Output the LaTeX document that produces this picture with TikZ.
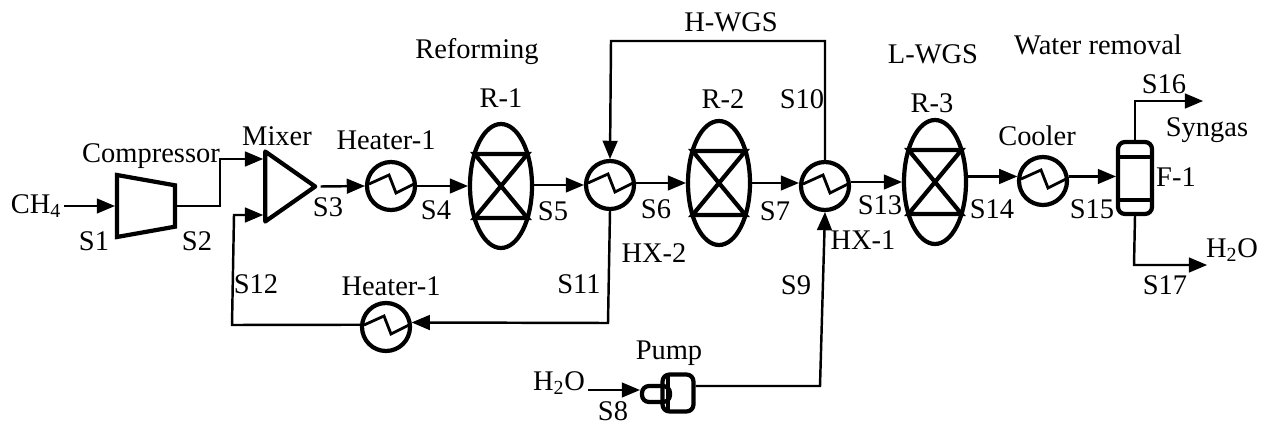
\documentclass[tikz,border=0pt]{standalone}
\usepackage{fontspec}
\setmainfont{Liberation Serif}
\usetikzlibrary{calc, shapes.geometric, positioning, arrows}
\tikzset{
pipe/.style={line width=1.4pt, -triangle 45},
unit/.style={draw=black, line width=2.4pt, inner sep=0pt, fill=none},
lbl/.style={font=\fontsize{16.2}{18}\selectfont, inner sep=0pt},
}
\newcommand\hxr[3]{\node[unit, circle, minimum size=0.96cm] (#1) at (#2,#3) {};\draw[line width=1.6pt] ([shift={(-22,-2)}]#1.center) -- ([shift={(-2,-11)}]#1.center) -- ([shift={(5,7)}]#1.center) -- ([shift={(23,-2)}]#1.center);}
\newcommand\reactor[3]{\node[unit, ellipse, minimum width=1.24cm, minimum height=2.48cm] (#1) at (#2,#3) {};\draw[line width=2.4pt] ([shift={(-26.5,-32)}]#1.center) -- ([shift={(26.5,-32)}]#1.center) -- ([shift={(-26.5,32)}]#1.center) -- ([shift={(26.5,32)}]#1.center) -- cycle;}

\begin{document}
\begin{tikzpicture}[x=0.02cm, y=-0.02cm]
\useasboundingbox (0,0) rectangle (1264,426);

% units
\node[unit, inner sep=1pt, trapezium, shape border rotate=270, trapezium stretches=true, trapezium left angle=76, trapezium right angle=76, minimum width=1.24cm, minimum height=1.16cm] (comp) at (146,206) {};
\node[unit, inner sep=1pt, isosceles triangle, isosceles triangle stretches=true, minimum width=1.4cm, minimum height=1cm, line join=round] (mix) at (283,186.5) {};
\hxr{heatA}{391}{186}
\reactor{R1}{501}{186}
\hxr{hxB}{610}{185}
\reactor{R2}{719}{183}
\hxr{hxA}{825}{186}
\reactor{R3}{935}{182}
\hxr{cool}{1043}{181}
\hxr{heatB}{386}{327}

\node[unit, rectangle, rounded corners=4pt, minimum width=0.68cm, minimum height=1.44cm] (flash) at (1135,178) {};
\draw[line width=2.4pt] ([shift={(-17,-21)}]flash.center) -- ([shift={(17,-21)}]flash.center);
\draw[line width=2.4pt] ([shift={(-17,22)}]flash.center) -- ([shift={(17,22)}]flash.center);

\node[unit, rectangle, rounded corners=4pt, minimum width=0.56cm, minimum height=0.32cm] (pumpA) at (656,394) {};
\node[unit, rectangle, rounded corners=4pt, minimum width=0.62cm, minimum height=0.74cm] (pumpB) at (678,393) {};
\draw[line width=2.4pt] (668,375) -- (668,412);

% free ends
\coordinate (ch4) at (64,206);
\coordinate (wat) at (588,390);
\coordinate (S2a) at (220,206);
\coordinate (S2b) at (220,159);
\coordinate (S12a) at (232,325);
\coordinate (S12b) at (234,215);
\coordinate (S10a) at (825,41);
\coordinate (S10b) at (611,41);
\coordinate (S11a) at (608,323);
\coordinate (S9a) at (820,386);
\coordinate (S16a) at (1135,101);
\coordinate (S16b) at (1203,101);
\coordinate (S17a) at (1134,265);
\coordinate (S17b) at (1207,265);

% streams
\draw[pipe] (ch4) -- (ch4 -| comp.west);
\draw[pipe] (comp.east) -- (S2a) -- (S2b) -- (S2b -| mix.west);
\draw[pipe] (mix.east) -- (heatA.west);
\draw[pipe] (heatA.east) -- (heatA.east -| R1.west);
\draw[pipe] (hxB.west -| R1.east) -- (hxB.west);
\draw[pipe] (R2.west -| hxB.east) -- (R2.west);
\draw[pipe] (R2.east) -- (R2.east -| hxA.west);
\draw[pipe] (R3.west -| hxA.east) -- (R3.west);
\draw[pipe] (R3.east |- cool.170) -- (cool.170);
\draw[pipe] (cool.10) -- (cool.10 -| flash.west);
\draw[pipe] (flash.north) -- (S16a) -- (S16b);
\draw[pipe] (flash.south) -- (S17a) -- (S17b);
\draw[pipe] (hxA.north) -- (S10a) -- (S10b) -- (hxB.north);
\draw[pipe] (hxB.south) -- (S11a) -- (heatB.10);
\draw[pipe] (heatB.175) -- (S12a) -- (S12b) -- (S12b -| mix.west);
\draw[pipe] (wat) -- (wat -| pumpA.west);
\draw[pipe] (pumpB.east |- S9a) -- (S9a) -- (hxA.south);

% labels
\node[lbl] (tCH) at (36,206) {CH\textsubscript{4}};
\node[lbl] (tS1) at (94,241) {S1};
\node[lbl] (tS2) at (197,241) {S2};
\node[lbl] (tComp) at (151,156) {Compressor};
\node[lbl] (tMix) at (277,136) {Mixer};
\node[lbl] (tHeatA) at (386,140) {Heater-1};
\node[lbl] (tS3) at (328,207) {S3};
\node[lbl] (tS4) at (436,210) {S4};
\node[lbl] (tRef) at (477,52) {Reforming};
\node[lbl] (tR1) at (501,98) {R-1};
\node[lbl] (tS5) at (553,211) {S5};
\node[lbl] (tS6) at (656,209) {S6};
\node[lbl] (tR2) at (723,99) {R-2};
\node[lbl] (tHXB) at (654,253) {HX-2};
\node[lbl] (tS7) at (775,211) {S7};
\node[lbl] (tS10) at (802,99) {S10};
\node[lbl] (tHWGS) at (731,22) {H-WGS};
\node[lbl] (tS11) at (579,284) {S11};
\node[lbl] (tS12) at (256,284) {S12};
\node[lbl] (tHeatB) at (391,286) {Heater-1};
\node[lbl] (tS9) at (796,285) {S9};
\node[lbl] (tPump) at (669,353) {Pump};
\node[lbl] (tWatA) at (559,383) {H\textsubscript{2}O};
\node[lbl] (tS8) at (613,411) {S8};
\node[lbl] (tS13) at (880,205) {S13};
\node[lbl] (tHXA) at (863,240) {HX-1};
\node[lbl] (tLWGS) at (933,54) {L-WGS};
\node[lbl] (tR3) at (932,103) {R-3};
\node[lbl] (tCool) at (1037,136) {Cooler};
\node[lbl] (tWater) at (1098,45) {Water removal};
\node[lbl] (tS14) at (992,209) {S14};
\node[lbl] (tS15) at (1092,209) {S15};
\node[lbl] (tF1) at (1176,177) {F-1};
\node[lbl] (tS16) at (1164,84) {S16};
\node[lbl] (tSyn) at (1207,130) {Syngas};
\node[lbl] (tWatB) at (1232,250) {H\textsubscript{2}O};
\node[lbl] (tS17) at (1165,285) {S17};
\end{tikzpicture}
\end{document}
